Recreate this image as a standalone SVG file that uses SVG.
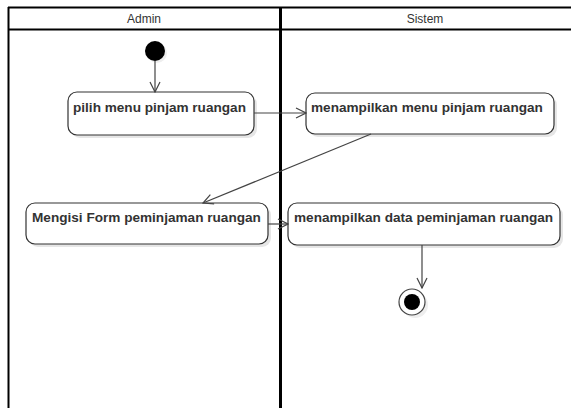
<svg xmlns="http://www.w3.org/2000/svg" width="571" height="408" viewBox="0 0 571 408">
<style>
.lane{fill:none;stroke:#000;}
.hdr{font-family:"Liberation Sans",Arial,sans-serif;font-size:12px;fill:#333;text-anchor:middle;}
.act{fill:#fff;stroke:#333;stroke-width:1.2;}
.shadow{fill:#e6e6e6;}
.lbl{font-family:"Liberation Sans",Arial,sans-serif;font-size:13.6px;font-weight:bold;fill:#333;}
.edge{fill:none;stroke:#444;stroke-width:1.2;}
</style>
<defs>
<marker id="open" viewBox="0 0 12 12" refX="11" refY="6" markerWidth="12" markerHeight="12" markerUnits="userSpaceOnUse" orient="auto">
<path d="M1,1 L11,6 L1,11" fill="none" stroke="#444" stroke-width="1.2"/>
</marker>
</defs>
<rect width="571" height="408" fill="#fff"/>
<g id="swimlanes">
<line class="lane" x1="8" y1="7.5" x2="571" y2="7.5" stroke-width="2"/>
<line class="lane" x1="8" y1="29.5" x2="571" y2="29.5" stroke-width="2"/>
<line class="lane" x1="8.5" y1="7" x2="8.5" y2="408" stroke-width="2"/>
<line class="lane" x1="280.5" y1="7" x2="280.5" y2="408" stroke-width="3"/>
<text class="hdr" x="144" y="23">Admin</text>
<text class="hdr" x="425" y="23">Sistem</text>
</g>
<g id="start">
<circle cx="157" cy="53" r="10" fill="#eee"/>
<circle cx="155" cy="51" r="10" fill="#000"/>
</g>
<g id="a1">
<rect class="shadow" x="71" y="95" width="186" height="43" rx="9"/>
<rect class="act" x="68" y="92" width="186" height="43" rx="9"/>
<text class="lbl" x="73" y="112">pilih menu pinjam ruangan</text>
</g>
<g id="a2">
<rect class="shadow" x="309" y="96" width="248" height="41" rx="9"/>
<rect class="act" x="306" y="93" width="248" height="41" rx="9"/>
<text class="lbl" x="311" y="112">menampilkan menu pinjam ruangan</text>
</g>
<g id="a3">
<rect class="shadow" x="29" y="206" width="242" height="41" rx="9"/>
<rect class="act" x="26" y="203" width="242" height="41" rx="9"/>
<text class="lbl" x="32" y="222">Mengisi Form peminjaman ruangan</text>
</g>
<g id="a4">
<rect class="shadow" x="291" y="206" width="272" height="42" rx="9"/>
<rect class="act" x="288" y="203" width="272" height="42" rx="9"/>
<text class="lbl" x="294" y="222">menampilkan data peminjaman ruangan</text>
</g>
<g id="end">
<circle cx="415" cy="305" r="13" fill="#eee"/>
<circle cx="412" cy="302" r="13" fill="#fff" stroke="#444" stroke-width="1.2"/>
<circle cx="412" cy="302" r="8" fill="#000"/>
</g>
<g id="connectors">
<line class="edge" x1="155" y1="61" x2="155" y2="92" marker-end="url(#open)"/>
<line class="edge" x1="254" y1="113" x2="306" y2="113" marker-end="url(#open)"/>
<line class="edge" x1="371" y1="134" x2="203" y2="203" marker-end="url(#open)"/>
<line class="edge" x1="268" y1="224" x2="288" y2="224" marker-end="url(#open)"/>
<line class="edge" x1="422" y1="245" x2="422" y2="288" marker-end="url(#open)"/>
</g>
</svg>
